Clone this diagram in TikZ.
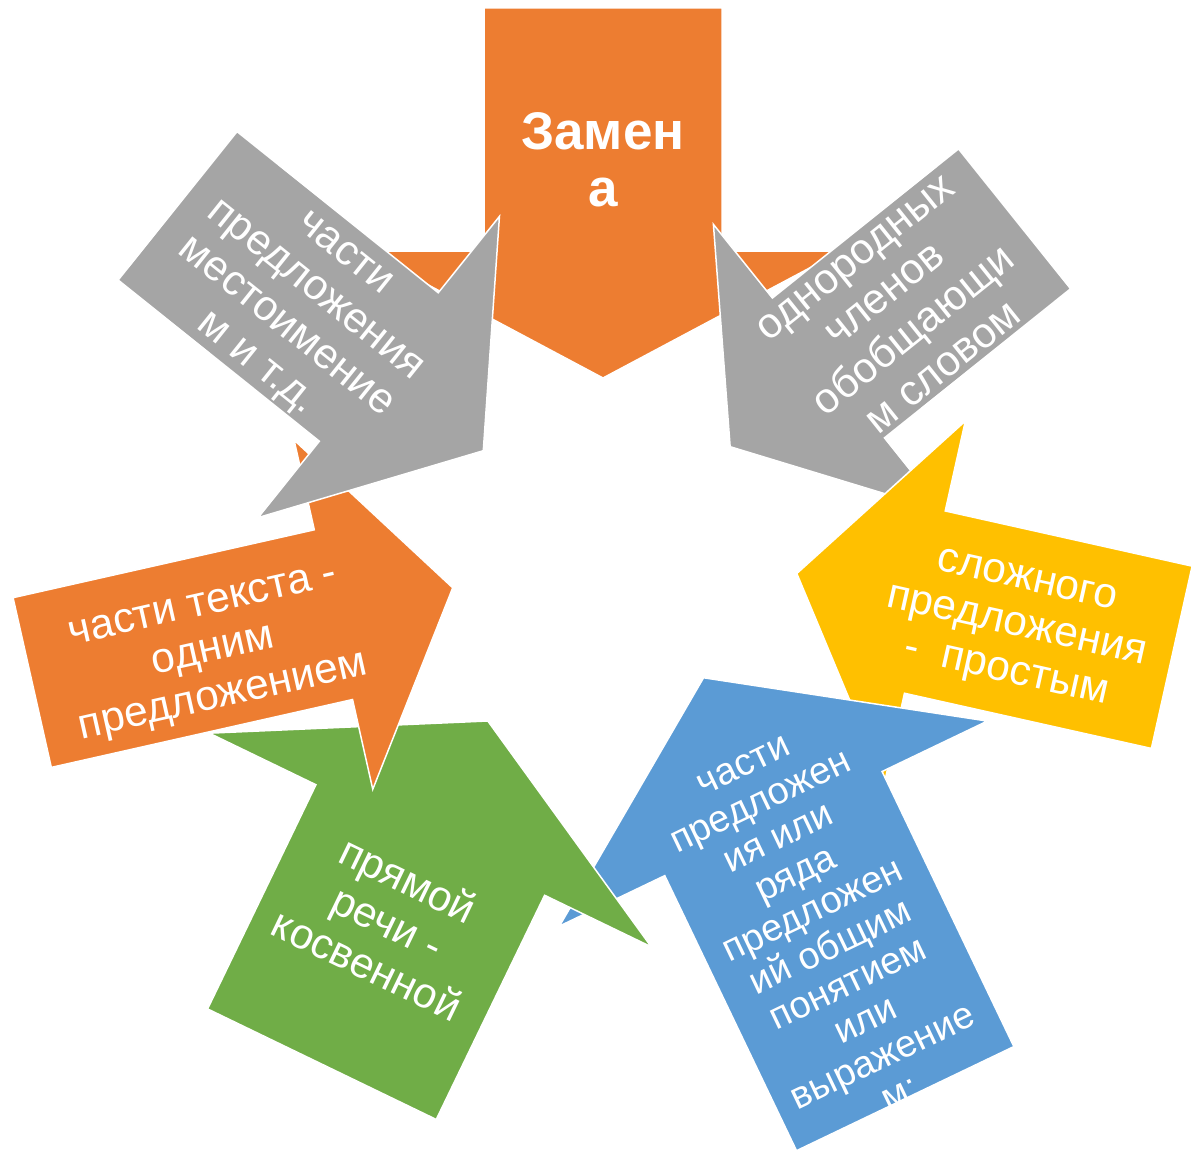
\documentclass[tikz,border=0pt]{standalone}
\usepackage{fontspec}
\setmainfont{Liberation Sans}
\usepackage{xcolor}

\definecolor{accorange}{HTML}{ED7D31}
\definecolor{accgray}{HTML}{A5A5A5}
\definecolor{accyellow}{HTML}{FFC000}
\definecolor{accblue}{HTML}{5B9BD5}
\definecolor{accgreen}{HTML}{70AD47}

\begin{document}
\begin{tikzpicture}[x=1pt, y=-1pt]
	\tikzset{
		blockarrow/.style={draw=white, line width=1.5pt, line join=miter},
		arrowtext/.style={text=white, align=center, inner sep=0pt, font=\fontsize{42.5}{47}\selectfont}
	}
	\fill[white] (0,0) rectangle (1200,1153);
	\useasboundingbox (0,0) rectangle (1200,1153);

	% top: Замена
	\begin{scope}[shift={(603,129.5)}]
		\filldraw[blockarrow, fill=accorange] (-119,-121.5) -- (119,-121.5) -- (119,121.5) -- (238.5,121.5) -- (0,248.5) -- (-238.5,121.5) -- (-119,121.5) -- cycle;
		\node[arrowtext, font=\fontsize{53}{57}\selectfont\bfseries] (zamena) at (0,30) {Замен\\а};
	\end{scope}

	% upper right, grey
	\begin{scope}[shift={(921.5,293.4)}, rotate=38.7, transform shape]
		\filldraw[blockarrow, fill=accgray] (119.25,-89.6) -- (-119.25,-89.6) -- (-119.25,-184) -- (-245.2,0) -- (-119.25,184) -- (-119.25,89.6) -- (119.25,89.6) -- cycle;
		\node[arrowtext] (odnorod) at (-29.5,2) {однородных\\членов\\обобщающи\\м словом};
	\end{scope}

	% right, yellow
	\begin{scope}[shift={(1048.3,629.7)}, rotate=-12.6, transform shape]
		\filldraw[blockarrow, fill=accyellow] (126.5,-93.4) -- (-126.5,-93.4) -- (-126.5,-185.5) -- (-257.7,0) -- (-126.5,185.5) -- (-126.5,93.4) -- (126.5,93.4) -- cycle;
		\node[arrowtext] (slozhn) at (-31.7,6) {сложного\\предложения\\-\ \ простым};
	\end{scope}

	% lower right, blue
	\begin{scope}[shift={(839.3,961.1)}, rotate=25.6, transform shape]
		\filldraw[blockarrow, fill=accblue] (-120.5,152.5) -- (-120.5,-152.5) -- (-237.3,-152.5) -- (0,-314.2) -- (237.3,-152.5) -- (120.5,-152.5) -- (120.5,152.5) -- cycle;
		\node[arrowtext, font=\fontsize{38}{40.5}\selectfont] (chasti) at (-2,-35.6) {части\\предложен\\ия или\\ряда\\предложен\\ий общим\\понятием\\или\\выражение\\м:};
	\end{scope}

	% lower left, green
	\begin{scope}[shift={(376.1,952.1)}, rotate=-25.8, transform shape]
		\filldraw[blockarrow, fill=accgreen] (-127,124.5) -- (-127,-124.5) -- (-245.5,-124.5) -- (0,-256.7) -- (245.5,-124.5) -- (127,-124.5) -- (127,124.5) -- cycle;
		\node[arrowtext] (pryamoy) at (-2.5,-32.4) {прямой\\речи -\\косвенной};
	\end{scope}

	% left, orange
	\begin{scope}[shift={(182.8,648.6)}, rotate=12.7, transform shape]
		\filldraw[blockarrow, fill=accorange] (-154.4,-87) -- (154.4,-87) -- (154.4,-179) -- (276.7,0) -- (154.4,179) -- (154.4,87) -- (-154.4,87) -- cycle;
		\node[arrowtext] (teksta) at (29,12) {части текста -\\одним\\предложением};
	\end{scope}

	% upper left, grey
	\begin{scope}[shift={(278.2,286.4)}, rotate=-38.7, transform shape]
		\filldraw[blockarrow, fill=accgray] (-128.9,-95.1) -- (128.9,-95.1) -- (128.9,-193) -- (262.8,0) -- (128.9,193) -- (128.9,95.1) -- (-128.9,95.1) -- cycle;
		\node[arrowtext] (mestoim) at (31.5,6) {части\\предложения\\местоимение\\м и т.д.};
	\end{scope}
\end{tikzpicture}
\end{document}
